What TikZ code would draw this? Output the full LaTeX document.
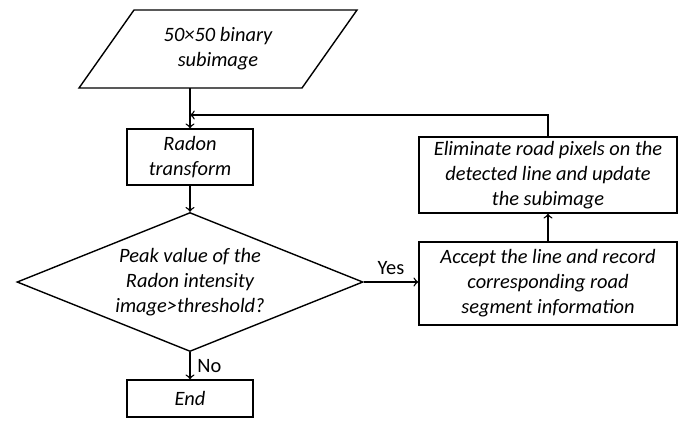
\documentclass[tikz,border=0pt]{standalone}
\usepackage{fontspec}
\setmainfont{Carlito}
\usetikzlibrary{shapes.geometric}
\begin{document}
\begin{tikzpicture}[x=0.5pt,y=-0.5pt,line width=0.7pt,
  every node/.style={font=\fontsize{10.2}{12.5}\selectfont\itshape, align=center},
  box/.style={draw, rectangle, inner sep=0pt},
  lbl/.style={font=\fontsize{10.2}{12.5}\selectfont\upshape}]
\useasboundingbox (0,0) rectangle (681,420);
% input
\draw (134,10) -- (357,10) -- (302,88) -- (79,88) -- cycle;
\node (sub) at (218,49){50×50 binary\\subimage};
\coordinate (subout) at (190,88);
\node[box, minimum width=63pt, minimum height=28pt] (radon) at (190,157){Radon\\transform};
\node[draw, diamond, shape aspect=2.49, minimum width=173pt, minimum height=69.5pt, inner sep=0pt] (peak) at (190,282){Peak value of the\\Radon intensity\\image>threshold?};
\node[box, minimum width=63pt, minimum height=18.5pt] (end) at (190,398.5){End};
\node[box, minimum width=129pt, minimum height=41.5pt] (accept) at (548,283.5){Accept the line and record\\corresponding road\\segment information};
\node[box, minimum width=129pt, minimum height=38pt] (elim) at (548,175){Eliminate road pixels on the\\detected line and update\\the subimage};
\coordinate (top) at (548,115);
\coordinate (join) at (190,115);
\draw[->] (subout) -- (radon);
\draw[->] (radon) -- (peak);
\draw[->] (peak) -- node[lbl, right]{No} (end);
\draw[->] (peak.east) -- node[lbl, above]{Yes} (accept.west |- peak.east);
\draw[->] (accept) -- (elim);
\draw[->] (elim.north) -- (top) -- (join);
\end{tikzpicture}
\end{document}
